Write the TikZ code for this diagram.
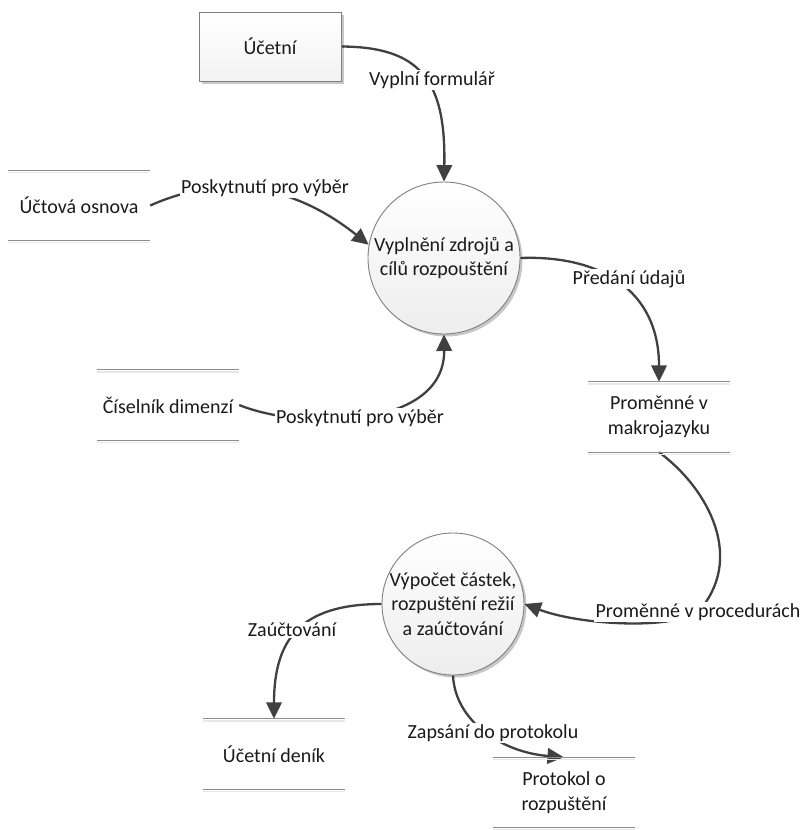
\documentclass[tikz,border=0pt]{standalone}
\usepackage{fontspec}
\setmainfont{Carlito}
\usetikzlibrary{arrows.meta,shadows}
\definecolor{conn}{HTML}{404040}
\definecolor{edgec}{HTML}{7F7F7F}
\definecolor{slinec}{HTML}{8C8C8C}
\definecolor{txt}{HTML}{1A1A1A}
\pgfdeclarelayer{bg}
\pgfsetlayers{bg,main}
\begin{document}
\begin{tikzpicture}[x=1pt,y=-1pt,
  font=\fontsize{20}{24.5}\selectfont, text=txt,
  proc/.style={circle, draw=edgec, line width=0.9pt, top color=white, bottom color=gray!14,
    align=center, inner sep=0pt,
    drop shadow={shadow xshift=2.5pt, shadow yshift=-2.5pt, opacity=0.22, fill=black}},
  entity/.style={rectangle, draw=edgec, line width=0.9pt, top color=white, bottom color=gray!10,
    minimum width=142pt, minimum height=69pt, inner sep=0pt, align=center,
    drop shadow={shadow xshift=2.5pt, shadow yshift=-2.5pt, opacity=0.22, fill=black}},
  sline/.style={draw=slinec, line width=1.2pt},
  sshadow/.style={draw=gray!18, line width=1.4pt},
  store/.style={minimum width=142pt, minimum height=70pt, inner sep=0pt, align=center,
    append after command={
      ([yshift=-2pt]\tikzlastnode.north west) edge[sshadow] ([yshift=-2pt]\tikzlastnode.north east)
      ([yshift=-2pt]\tikzlastnode.south west) edge[sshadow] ([yshift=-2pt]\tikzlastnode.south east)
      (\tikzlastnode.north west) edge[sline] (\tikzlastnode.north east)
      (\tikzlastnode.south west) edge[sline] (\tikzlastnode.south east)}},
  flow/.style={draw=conn, line width=2.3pt, -{Triangle[length=16.5pt,width=15.5pt]}},
  lbl/.style={fill=white, inner sep=1.5pt}
]
\useasboundingbox (0,0) rectangle (804,830);

% processes and entities
\node[entity] (u) at (270,46.5) {Účetní};
\node[proc, minimum size=152pt] (p1) at (444,258) {Vyplnění zdrojů a\\cílů rozpouštění};
\node[proc, minimum size=142pt] (p2) at (453,604) {Výpočet částek,\\rozpuštění režií\\a zaúčtování};

% data stores
\node[store] (s1) at (79,205.5) {Účtová osnova};
\node[store] (s2) at (168,405) {Číselník dimenzí};
\node[store] (s3) at (659,417) {Proměnné v\\makrojazyku};
\node[store] (s4) at (274,754) {Účetní deník};
\node[store] (s5) at (564,792.5) {Protokol o\\rozpuštění};

% labels
\node[lbl] (l1) at (432,80) {Vyplní formulář};
\node[lbl] (l2) at (265,188) {Poskytnutí pro výběr};
\node[lbl] (l3) at (360,418) {Poskytnutí pro výběr};
\node[lbl] (l4) at (629,279) {Předání údajů};
\node[lbl] (l5) at (698,612) {Proměnné v procedurách};
\node[lbl] (l6) at (292,630) {Zaúčtování};
\node[lbl] (l7) at (493,733) {Zapsání do protokolu};

\begin{pgfonlayer}{bg}
\draw[flow] (u.east) .. controls (420,47) and (446,80) .. (p1.north);
\draw[flow] (s1.east) .. controls (230,170) and (300,190) .. (p1.170);
\draw[flow] (s2.east) .. controls (300,430) and (445,430) .. (p1.south);
\draw[flow] (p1.east) .. controls (600,255) and (659,290) .. (s3.north);
\draw[flow] (s3.south) .. controls (710,490) and (745,560) .. (l5.center)
   .. controls (670,630) and (580,625) .. (p2.east);
\draw[flow] (p2.west) .. controls (300,604) and (274,640) .. (s4.north);
\draw[flow] (p2.south) .. controls (455,720) and (500,752) .. (s5.north);
\end{pgfonlayer}
\end{tikzpicture}
\end{document}
